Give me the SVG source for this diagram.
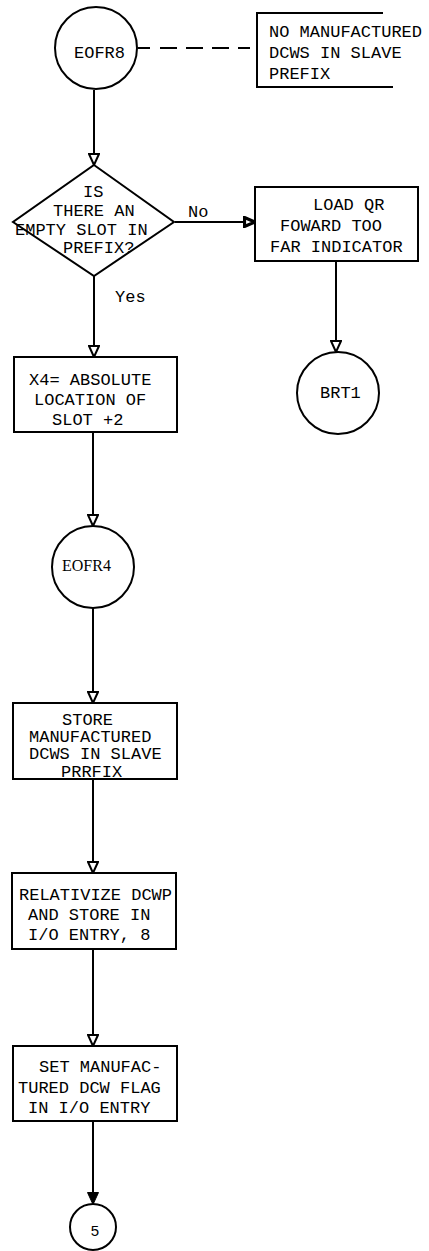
<svg xmlns="http://www.w3.org/2000/svg" width="429" height="1251" viewBox="0 0 429 1251">
<style>
.ln{fill:none;stroke:#000;stroke-width:2}
.sh{fill:#fff;stroke:#000;stroke-width:2}
.t{font-family:"Liberation Mono","DejaVu Sans Mono",monospace;font-size:17px;fill:#000}
.ts{font-family:"Liberation Serif","DejaVu Serif",serif;font-size:16px;fill:#000}
.tn{font-family:"Liberation Sans","DejaVu Sans",sans-serif;font-size:15px;fill:#000}
</style>
<defs>
<marker id="open" markerUnits="userSpaceOnUse" viewBox="0 0 14 12" refX="12.5" refY="6" markerWidth="14" markerHeight="12" orient="auto">
<path d="M1.5,1 L12.5,6 L1.5,11 Z" fill="#fff" stroke="#000" stroke-width="2"/>
</marker>
<marker id="bold" markerUnits="userSpaceOnUse" viewBox="0 0 14 12" refX="12.5" refY="6" markerWidth="14" markerHeight="12" orient="auto">
<path d="M2,1.5 L12.5,6 L2,10.5 Z" fill="#fff" stroke="#000" stroke-width="3.2"/>
</marker>
<marker id="fill" markerUnits="userSpaceOnUse" viewBox="0 0 14 12" refX="12.5" refY="6" markerWidth="14" markerHeight="12" orient="auto">
<path d="M1,0.5 L13,6 L1,11.5 Z" fill="#000" stroke="#000" stroke-width="1"/>
</marker>
</defs>
<rect width="429" height="1251" fill="#fff"/>
<g id="connectors">
<line class="ln" x1="94" y1="90" x2="94" y2="165" marker-end="url(#open)"/>
<line class="ln" x1="138" y1="48" x2="257" y2="48" stroke-dasharray="12,10,17,9,17,9,17,9"/>
<line class="ln" x1="175" y1="222" x2="255" y2="222" marker-end="url(#bold)"/>
<line class="ln" x1="94" y1="276" x2="94" y2="357" marker-end="url(#open)"/>
<line class="ln" x1="336" y1="261" x2="336" y2="352" marker-end="url(#open)"/>
<line class="ln" x1="93" y1="432" x2="93" y2="526" marker-end="url(#open)"/>
<line class="ln" x1="93" y1="608" x2="93" y2="703" marker-end="url(#open)"/>
<line class="ln" x1="93" y1="779" x2="93" y2="873" marker-end="url(#open)"/>
<line class="ln" x1="93" y1="949" x2="93" y2="1046" marker-end="url(#open)"/>
<line class="ln" x1="93" y1="1121" x2="93" y2="1204" marker-end="url(#fill)"/>
<text class="t" x="188" y="217">No</text>
<text class="t" x="115" y="302">Yes</text>
</g>
<g id="EOFR8">
<circle class="sh" cx="96" cy="48" r="41"/>
<text class="t" x="74" y="58">EOFR8</text>
</g>
<g id="note">
<path class="ln" d="M383,13 H257 V87 H393"/>
<text class="t" x="269" y="37">NO MANUFACTURED</text>
<text class="t" x="269" y="58">DCWS IN SLAVE</text>
<text class="t" x="269" y="79">PREFIX</text>
</g>
<g id="decision">
<polygon class="sh" points="94,165 174,222 94,276 13,222"/>
<text class="t" x="83" y="197">IS</text>
<text class="t" x="53" y="216">THERE AN</text>
<text class="t" x="15" y="235">EMPTY SLOT IN</text>
<text class="t" x="63" y="253">PREFIX?</text>
</g>
<g id="loadqr">
<rect class="sh" x="255" y="187" width="163" height="74"/>
<text class="t" x="313" y="210">LOAD QR</text>
<text class="t" x="280" y="231">FOWARD TOO</text>
<text class="t" x="270" y="252">FAR INDICATOR</text>
</g>
<g id="BRT1">
<circle class="sh" cx="338" cy="393" r="41"/>
<text class="t" x="320" y="398">BRT1</text>
</g>
<g id="x4">
<rect class="sh" x="14" y="357" width="163" height="75"/>
<text class="t" x="29" y="385">X4= ABSOLUTE</text>
<text class="t" x="34" y="405">LOCATION OF</text>
<text class="t" x="52" y="425">SLOT +2</text>
</g>
<g id="EOFR4">
<circle class="sh" cx="93" cy="567" r="41"/>
<text class="ts" x="62" y="571">EOFR4</text>
</g>
<g id="store">
<rect class="sh" x="13" y="703" width="164" height="76"/>
<text class="t" x="62" y="725">STORE</text>
<text class="t" x="29" y="742">MANUFACTURED</text>
<text class="t" x="29" y="759">DCWS IN SLAVE</text>
<text class="t" x="61" y="777">PRRFIX</text>
</g>
<g id="relativize">
<rect class="sh" x="12" y="873" width="164" height="76"/>
<text class="t" x="19" y="900">RELATIVIZE DCWP</text>
<text class="t" x="28" y="920">AND STORE IN</text>
<text class="t" x="28" y="940">I/O ENTRY, 8</text>
</g>
<g id="setflag">
<rect class="sh" x="13" y="1046" width="164" height="75"/>
<text class="t" x="39" y="1072">SET MANUFAC-</text>
<text class="t" x="18" y="1093">TURED DCW FLAG</text>
<text class="t" x="28" y="1113">IN I/O ENTRY</text>
</g>
<g id="c5">
<circle class="sh" cx="93" cy="1227" r="23"/>
<text class="tn" x="95" y="1236" text-anchor="middle">5</text>
</g>
</svg>
